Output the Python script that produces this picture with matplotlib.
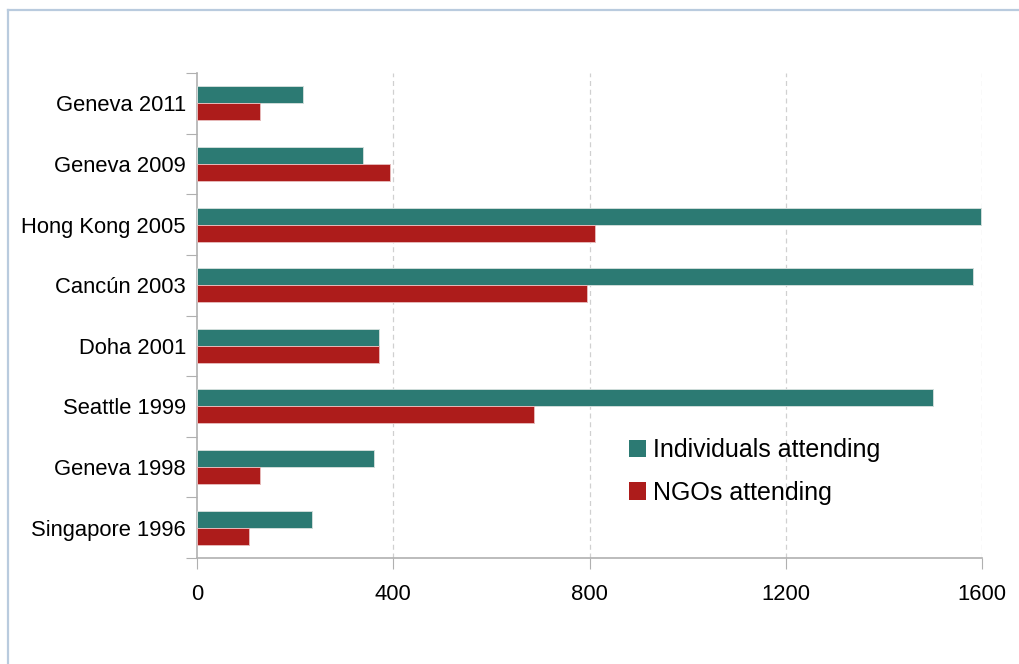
import matplotlib.pyplot as plt
import numpy as np
from matplotlib.lines import Line2D
from matplotlib.patches import Patch

# data (top to bottom)
meetings = ['Geneva 2011', 'Geneva 2009', 'Hong Kong 2005', 'Cancún 2003',
            'Doha 2001', 'Seattle 1999', 'Geneva 1998', 'Singapore 1996']
individuals = [217, 339, 1598, 1582, 371, 1500, 361, 235]
ngos = [128, 393, 812, 794, 370, 686, 128, 105]
xticks = [0, 400, 800, 1200, 1600]

teal = '#2c7a73'
red = '#ad1c1b'
axis_grey = '#b0b0b0'

plt.rcParams['font.family'] = ['Liberation Sans', 'DejaVu Sans']

fig = plt.figure(figsize=(10.2, 6.64), dpi=100)
ax = fig.add_axes([197 / 1020, 1 - 558 / 664, 785 / 1020, 485 / 664])

y = np.arange(len(meetings))
h = 0.28
ax.barh(y - h / 2, individuals, height=h, color=teal, edgecolor='#cfdcda', linewidth=0.7,
        label='Individuals attending', zorder=3)
ax.barh(y + h / 2, ngos, height=h, color=red, edgecolor='#e6b8b8', linewidth=0.7,
        label='NGOs attending', zorder=3)

ax.set_xlim(0, 1600)
ax.set_ylim(len(meetings) - 0.5, -0.5)

# x axis
ax.set_xticks(xticks)
ax.set_xticklabels([str(t) for t in xticks], fontsize=15.8)
ax.tick_params(axis='x', direction='out', length=8, color=axis_grey, pad=11)
for t in xticks[1:]:
    ax.axvline(t, color='#d0d0d0', linestyle=(0, (4, 3)), linewidth=0.9, zorder=1)

# y axis: ticks between categories, labels at centres
ax.set_yticks(np.arange(-0.5, len(meetings)))
ax.set_yticklabels([])
ax.tick_params(axis='y', which='major', direction='out', length=8, color=axis_grey)
ax.set_yticks(y, minor=True)
ax.set_yticklabels(meetings, minor=True, fontsize=15.8)
ax.tick_params(axis='y', which='minor', length=0, pad=8)

for side in ['top', 'right']:
    ax.spines[side].set_visible(False)
for side in ['left', 'bottom']:
    ax.spines[side].set_color(axis_grey)
    ax.spines[side].set_linewidth(1.2)

handles = [Patch(facecolor=teal), Patch(facecolor=red)]
ax.legend(handles, ['Individuals attending', 'NGOs attending'],
          loc='upper left', bbox_to_anchor=(619 / 1020, 1 - 428 / 664),
          bbox_transform=fig.transFigure, frameon=False, fontsize=18,
          handlelength=0.7, handleheight=0.7, handletextpad=0.25, labelspacing=0.75,
          borderaxespad=0)

# light frame around the figure (only top and left edge visible)
frame = '#b9cbde'
fig.add_artist(Line2D([8 / 1020, 1.0], [1 - 10 / 664] * 2, transform=fig.transFigure,
                      color=frame, linewidth=1.6))
fig.add_artist(Line2D([8 / 1020] * 2, [0.0, 1 - 10 / 664], transform=fig.transFigure,
                      color=frame, linewidth=1.6))

fig.savefig('out.png', dpi=100)
